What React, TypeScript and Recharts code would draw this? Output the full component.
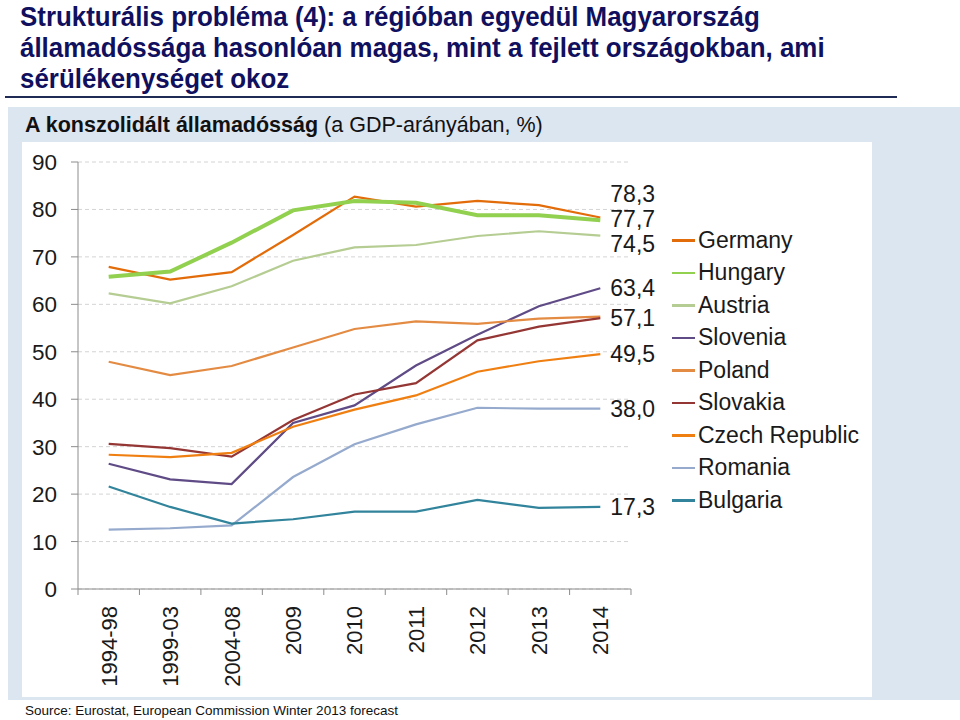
import React from "react";
import {
  LineChart,
  Line,
  XAxis,
  YAxis,
  CartesianGrid,
  Legend,
} from "recharts";

// --- data ---

const periods = ["1994-98", "1999-03", "2004-08", "2009", "2010", "2011", "2012", "2013", "2014"];

const germany = [67.9, 65.2, 66.8, 74.6, 82.7, 80.6, 81.8, 80.9, 78.3];
const hungary = [65.8, 66.9, 73.0, 79.8, 81.8, 81.4, 78.8, 78.8, 77.7];
const austria = [62.3, 60.2, 63.8, 69.2, 72.0, 72.5, 74.4, 75.4, 74.5];
const slovenia = [26.4, 23.1, 22.1, 35.0, 38.7, 47.1, 53.6, 59.6, 63.4];
const poland = [47.9, 45.1, 47.0, 50.9, 54.8, 56.4, 55.9, 57.0, 57.4];
const slovakia = [30.6, 29.7, 27.9, 35.6, 41.0, 43.4, 52.4, 55.3, 57.1];
const czech = [28.3, 27.8, 28.7, 34.2, 37.8, 40.8, 45.8, 48.0, 49.5];
const romania = [12.5, 12.8, 13.4, 23.6, 30.5, 34.7, 38.2, 38.0, 38.0];
const bulgaria = [21.6, 17.3, 13.8, 14.7, 16.3, 16.3, 18.8, 17.1, 17.3];

const yTicks = [0, 10, 20, 30, 40, 50, 60, 70, 80, 90];

// --- series styling ---

const series = [
  { key: "germany", label: "Germany", values: germany, color: "#E36C0A", width: 2.2, endLabel: true, labelDy: -24 },
  { key: "hungary", label: "Hungary", values: hungary, color: "#92D050", width: 4, endLabel: true, labelDy: -2 },
  { key: "austria", label: "Austria", values: austria, color: "#B5CD92", width: 2.2, endLabel: true, labelDy: 8 },
  { key: "slovenia", label: "Slovenia", values: slovenia, color: "#5F4B86", width: 2.2, endLabel: true, labelDy: 0 },
  { key: "poland", label: "Poland", values: poland, color: "#E48B43", width: 2.2, endLabel: false, labelDy: 0 },
  { key: "slovakia", label: "Slovakia", values: slovakia, color: "#943634", width: 2.2, endLabel: true, labelDy: 0 },
  { key: "czech", label: "Czech Republic", values: czech, color: "#F07F12", width: 2.2, endLabel: true, labelDy: 0 },
  { key: "romania", label: "Romania", values: romania, color: "#95AACD", width: 2.2, endLabel: true, labelDy: 0 },
  { key: "bulgaria", label: "Bulgaria", values: bulgaria, color: "#31849B", width: 2.2, endLabel: true, labelDy: 0 },
];

const data = periods.map((p, i) => {
  const row: any = { period: p };
  series.forEach((s) => (row[s.key] = s.values[i]));
  return row;
});

const FONT = "'Liberation Sans', Arial, sans-serif";
const HALF_BAND = 30.7;

const XTick = (props: any) => {
  const { x, y, payload, index } = props;
  const last = index === periods.length - 1;
  return (
    <g transform={`translate(${x},${y})`}>
      <line x1={-HALF_BAND} x2={-HALF_BAND} y1={-8} y2={-2} stroke="#8c8c8c" />
      {last && <line x1={HALF_BAND} x2={HALF_BAND} y1={-8} y2={-2} stroke="#8c8c8c" />}
      <text
        transform="rotate(-90)"
        x={-9}
        y={0}
        dy="0.36em"
        textAnchor="end"
        fontSize={22}
        fontFamily={FONT}
        fill="#1a1a1a"
      >
        {payload.value}
      </text>
    </g>
  );
};

const endLabel = (s: (typeof series)[number]) => (props: any) => {
  const { x, y, index, value } = props;
  if (!s.endLabel || index !== periods.length - 1) return null;
  return (
    <text
      key={s.key + "-end"}
      x={x + 10}
      y={y + s.labelDy}
      dy="0.36em"
      fontSize={23}
      fontFamily={FONT}
      fill="#1a1a1a"
    >
      {Number(value).toFixed(1).replace(".", ",")}
    </text>
  );
};

const LegendList = () => (
  <div style={{ fontFamily: FONT, fontSize: 23, color: "#1a1a1a" }}>
    {series.map((s) => (
      <div key={s.key} style={{ display: "flex", alignItems: "center", height: 32.5 }}>
        <span style={{ display: "inline-block", width: 23, height: 2.5, background: s.color, marginRight: 3 }} />
        <span>{s.label}</span>
      </div>
    ))}
  </div>
);

export default function App() {
  return (
    <div
      style={{
        position: "absolute",
        left: 0,
        top: 0,
        width: 960,
        height: 720,
        background: "#fff",
        fontFamily: FONT,
        overflow: "hidden",
      }}
    >
      {/* title */}
      <div
        style={{
          position: "absolute",
          left: 20,
          top: 1,
          width: 1000,
          fontSize: 28,
          lineHeight: "31px",
          fontWeight: "bold",
          color: "#10105E",
          transform: "scaleX(0.925)",
          transformOrigin: "left top",
        }}
      >
        Strukturális probléma (4): a régióban egyedül Magyarország
        <br />
        államadóssága hasonlóan magas, mint a fejlett országokban, ami
        <br />
        sérülékenységet okoz
      </div>
      <div style={{ position: "absolute", left: 5, top: 96, width: 892, height: 2, background: "#1F2A55" }} />

      {/* panel */}
      <div style={{ position: "absolute", left: 8, top: 107, width: 952, height: 593, background: "#DCE6F1" }} />
      <div style={{ position: "absolute", left: 25, top: 113, fontSize: 21.5, color: "#111" }}>
        <b>A konszolidált államadósság</b> (a GDP-arányában, %)
      </div>

      <div style={{ position: "absolute", left: 22, top: 142, width: 850, height: 555, background: "#fff" }}>
        <LineChart width={850} height={555} data={data} margin={{ top: 20, right: 241, bottom: 8, left: 0 }}>
          <CartesianGrid vertical={false} stroke="#D4D4D4" strokeDasharray="4 3" />
          <XAxis
            dataKey="period"
            interval={0}
            height={100}
            padding={{ left: HALF_BAND, right: HALF_BAND }}
            axisLine={{ stroke: "#8c8c8c" }}
            tickLine={false}
            tick={<XTick />}
          />
          <YAxis
            width={56}
            domain={[0, 90]}
            ticks={yTicks}
            interval={0}
            axisLine={{ stroke: "#8c8c8c" }}
            tickLine={{ stroke: "#8c8c8c" }}
            tickSize={7}
            tickMargin={14}
            tick={{ fontSize: 22.5, fill: "#1a1a1a", fontFamily: FONT }}
          />
          <Legend
            layout="vertical"
            align="center"
            verticalAlign="middle"
            content={<LegendList />}
            wrapperStyle={{ left: 650, top: 82, width: 210, height: 300 }}
          />
          {series.map((s) => (
            <Line
              key={s.key}
              type="linear"
              dataKey={s.key}
              name={s.label}
              stroke={s.color}
              strokeWidth={s.width}
              dot={false}
              activeDot={false}
              isAnimationActive={false}
              label={endLabel(s)}
            />
          ))}
        </LineChart>
      </div>

      <div style={{ position: "absolute", left: 25, top: 703, fontSize: 13.5, color: "#111" }}>
        Source: Eurostat, European Commission Winter 2013 forecast
      </div>
    </div>
  );
}
